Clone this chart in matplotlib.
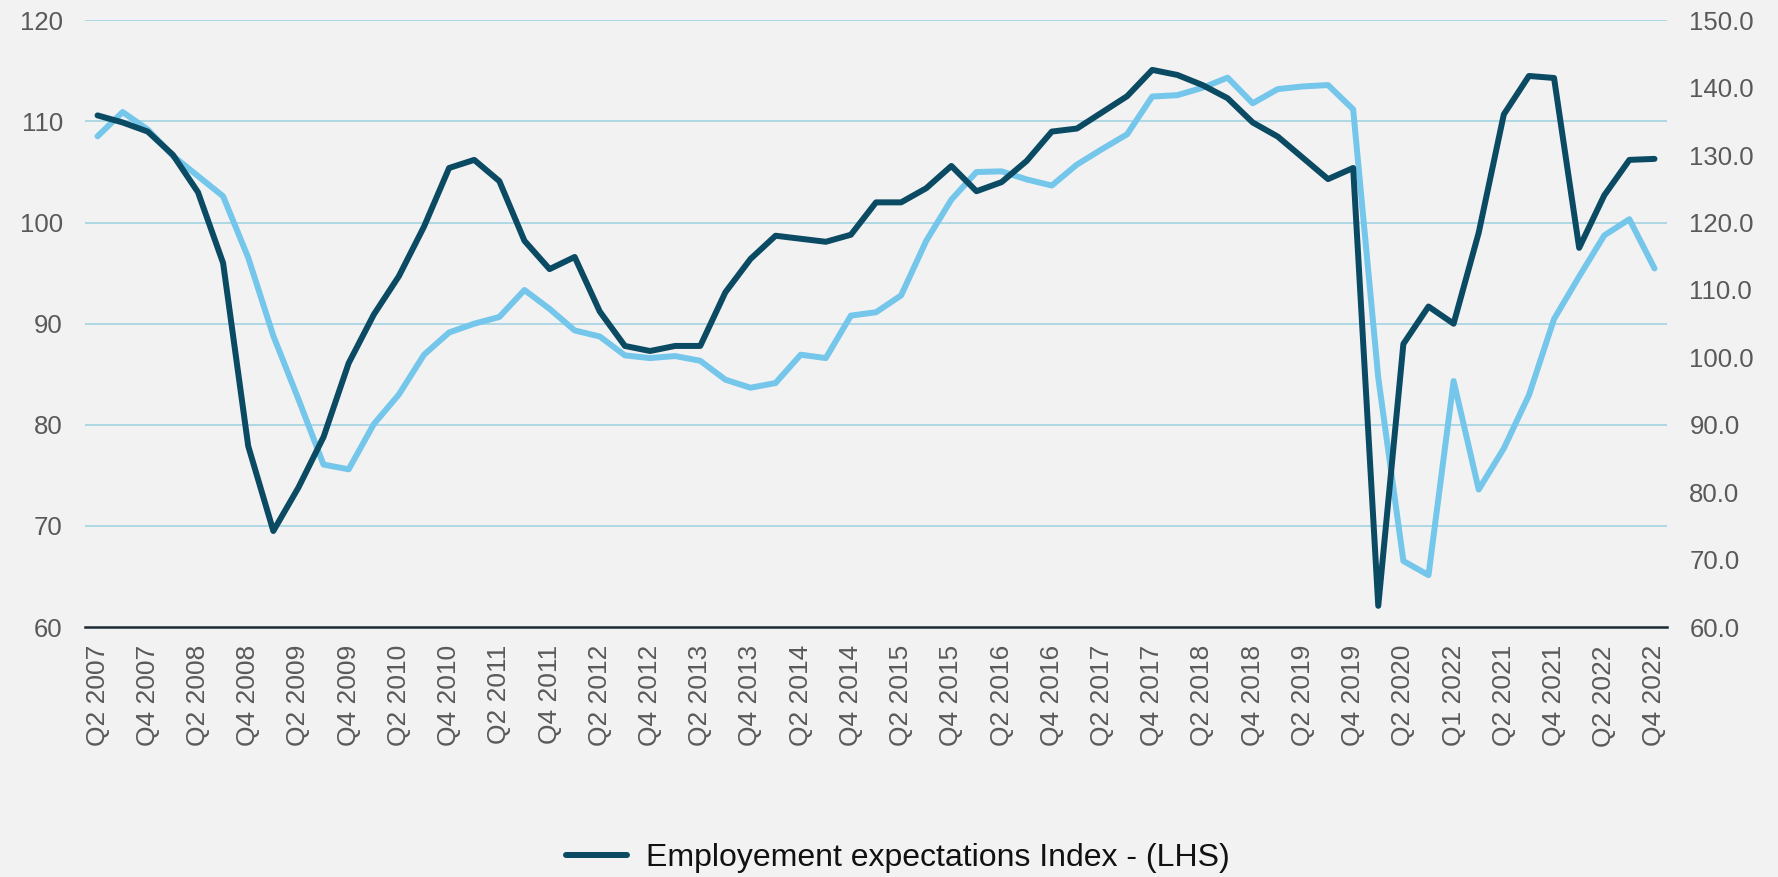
import matplotlib
matplotlib.use('Agg')
import matplotlib.pyplot as plt

plt.rcParams['font.family'] = ['Liberation Sans', 'DejaVu Sans']

# Data (quarterly, Q2 2007 .. Q4 2022)
employment_idx = [110.6, 109.9, 109.0, 106.7, 103.0, 96.0, 77.9, 69.5, 73.8, 78.8,
                  86.1, 90.9, 94.7, 99.6, 105.4, 106.2, 104.1, 98.2, 95.4, 96.6,
                  91.2, 87.8, 87.3, 87.8, 87.8, 93.1, 96.4, 98.7, 98.4, 98.1,
                  98.8, 102.0, 102.0, 103.4, 105.6, 103.1, 104.0, 106.1, 109.0, 109.3,
                  110.9, 112.5, 115.1, 114.6, 113.6, 112.3, 109.9, 108.5, 106.4, 104.3,
                  105.4, 62.1, 88.0, 91.7, 90.0, 99.0, 110.7, 114.5, 114.3, 97.5,
                  102.7, 106.2, 106.3]

second_series = [132.8, 136.4, 133.8, 129.9, 126.9, 123.9, 114.8, 103.2, 93.8, 84.1,
                 83.4, 90.1, 94.5, 100.4, 103.7, 105.0, 106.0, 110.0, 107.2, 104.0,
                 103.1, 100.3, 99.9, 100.2, 99.5, 96.7, 95.5, 96.2, 100.4, 99.9,
                 106.2, 106.7, 109.2, 117.3, 123.4, 127.5, 127.6, 126.4, 125.5, 128.6,
                 130.9, 133.1, 138.7, 138.9, 140.0, 141.5, 137.7, 139.8, 140.2, 140.4,
                 136.8, 97.0, 69.8, 67.7, 96.5, 80.4, 86.5, 94.4, 105.7, 112.0,
                 118.1, 120.5, 113.2]

tick_labels = ['Q2 2007', 'Q4 2007', 'Q2 2008', 'Q4 2008', 'Q2 2009', 'Q4 2009',
               'Q2 2010', 'Q4 2010', 'Q2 2011', 'Q4 2011', 'Q2 2012', 'Q4 2012',
               'Q2 2013', 'Q4 2013', 'Q2 2014', 'Q4 2014', 'Q2 2015', 'Q4 2015',
               'Q2 2016', 'Q4 2016', 'Q2 2017', 'Q4 2017', 'Q2 2018', 'Q4 2018',
               'Q2 2019', 'Q4 2019', 'Q2 2020', 'Q1 2022', 'Q2 2021', 'Q4 2021',
               'Q2 2022', 'Q4 2022']

dark = '#0b4a63'
light = '#74c6ea'
bg = '#f2f2f2'
grey = '#595959'

fig = plt.figure(figsize=(17.78, 8.77), dpi=100, facecolor=bg)
ax = fig.add_axes([0.0478, 0.285, 0.8898, 0.6918])
ax.set_facecolor(bg)
ax2 = ax.twinx()

x = list(range(len(employment_idx)))

ax2.plot(x, second_series, color=light, lw=4.3, solid_capstyle='round',
         solid_joinstyle='round', zorder=2)
line1, = ax.plot(x, employment_idx, color=dark, lw=4.3, solid_capstyle='round',
                 solid_joinstyle='round', label='Employement expectations Index - (LHS)')

# keep dark line on top
ax.set_zorder(ax2.get_zorder() + 1)
ax.patch.set_visible(False)
ax2.patch.set_visible(True)
ax2.patch.set_facecolor(bg)

ax.set_xlim(-0.5, len(x) - 0.5)
ax.set_ylim(60, 120)
ax.set_yticks(range(60, 121, 10))
ax2.set_ylim(60, 150)
ax2.set_yticks(range(60, 151, 10))
ax2.set_yticklabels([f'{v:.1f}' for v in range(60, 151, 10)])

ax.set_xticks(x[::2])
ax.set_xticklabels(tick_labels, rotation=90)

for s in ['top', 'left', 'right']:
    ax.spines[s].set_visible(False)
    ax2.spines[s].set_visible(False)
ax2.spines['bottom'].set_visible(False)
ax.spines['bottom'].set_color('#1b2a33')
ax.spines['bottom'].set_linewidth(1.8)

ax.tick_params(axis='y', length=0, labelsize=18.5, labelcolor=grey, pad=16)
ax2.tick_params(axis='y', length=0, labelsize=18.5, labelcolor=grey, pad=16)
ax.tick_params(axis='x', length=0, labelsize=19, labelcolor=grey, pad=13)

ax2.grid(False)
for v in range(70, 121, 10):
    ax2.axhline(60 + (v - 60) * 1.5, color='#a3d2e2', lw=1.2, zorder=0)

fig.legend(handles=[line1], loc='center', bbox_to_anchor=(0.505, 0.022),
           frameon=False, fontsize=23, handlelength=1.9, handletextpad=0.6,
           labelcolor='#111111')

fig.savefig('out.png', dpi=100, facecolor=bg)
